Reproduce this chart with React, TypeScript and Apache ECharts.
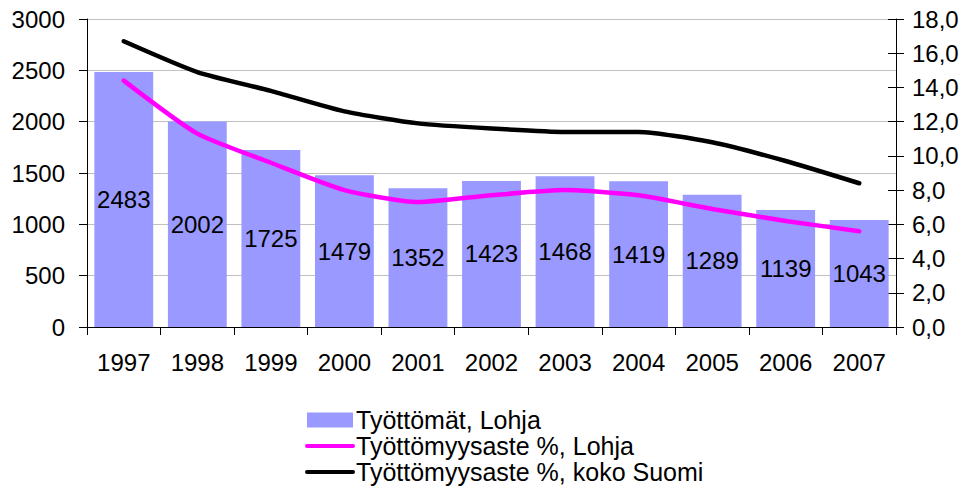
import React, { useEffect, useRef } from "react";
import * as echarts from "echarts";

const years = ["1997", "1998", "1999", "2000", "2001", "2002", "2003", "2004", "2005", "2006", "2007"];
const unemployedLohja = [2483, 2002, 1725, 1479, 1352, 1423, 1468, 1419, 1289, 1139, 1043];
const rateLohja = [14.4, 11.3, 9.6, 8.0, 7.3, 7.7, 8.0, 7.7, 6.9, 6.2, 5.6];
const rateFinland = [16.7, 14.9, 13.8, 12.6, 11.9, 11.6, 11.4, 11.4, 10.8, 9.7, 8.4];
const seriesNames = ["Työttömät, Lohja", "Työttömyysaste %, Lohja", "Työttömyysaste %, koko Suomi"];

const FONT = "'Liberation Sans', Arial, sans-serif";
const FS = 24;
const LFS = 25;

export default function App() {
  const ref = useRef<HTMLDivElement>(null);
  useEffect(() => {
    if (!ref.current) return;
    const chart = echarts.init(ref.current, null, { renderer: "svg" });
    const fmtComma = (v: number) => v.toFixed(1).replace(".", ",");
    chart.setOption({
      animation: false,
      backgroundColor: "#ffffff",
      textStyle: { fontFamily: FONT },
      grid: { left: 87, right: 73, top: 19, bottom: 159, containLabel: false },
      legend: {
        orient: "vertical",
        left: 300,
        top: 402,
        height: 84,
        itemWidth: 46,
        itemHeight: 15,
        itemGap: 0,
        textStyle: { fontFamily: FONT, fontSize: LFS, color: "#000", lineHeight: 26, padding: [0, 0, 0, -2] },
        data: [
          { name: seriesNames[0], icon: "rect" },
          { name: seriesNames[1], itemStyle: { opacity: 0 }, lineStyle: { width: 4 } },
          { name: seriesNames[2], itemStyle: { opacity: 0 }, lineStyle: { width: 4 } },
        ],
      },
      xAxis: {
        type: "category",
        data: years,
        boundaryGap: true,
        axisLine: { lineStyle: { color: "#000", width: 1 } },
        axisTick: { show: true, alignWithLabel: false, length: 8, lineStyle: { color: "#000" } },
        axisLabel: { fontFamily: FONT, fontSize: FS, color: "#000", margin: 23 },
      },
      yAxis: [
        {
          type: "value",
          min: 0,
          max: 3000,
          interval: 500,
          position: "left",
          axisLine: { show: true, lineStyle: { color: "#000" } },
          axisTick: { show: true, length: 8, lineStyle: { color: "#000" } },
          axisLabel: { fontFamily: FONT, fontSize: FS, color: "#000", margin: 22, formatter: (v: number) => String(v) },
          splitLine: { show: true, lineStyle: { color: "#c0c0c0", width: 1 } },
        },
        {
          type: "value",
          min: 0,
          max: 18,
          interval: 2,
          position: "right",
          axisLine: { show: true, lineStyle: { color: "#000" } },
          axisTick: { show: true, length: 8, lineStyle: { color: "#000" } },
          axisLabel: { fontFamily: FONT, fontSize: FS, color: "#000", margin: 16, formatter: fmtComma },
          splitLine: { show: false },
        },
        {
          type: "value",
          min: 0,
          max: 18,
          interval: 2,
          position: "right",
          axisLine: { show: false },
          axisTick: { show: true, inside: true, length: 8, lineStyle: { color: "#000" } },
          axisLabel: { show: false },
          splitLine: { show: false },
        },
      ],
      series: [
        {
          name: seriesNames[0],
          type: "bar",
          data: unemployedLohja,
          yAxisIndex: 0,
          barCategoryGap: "20%",
          itemStyle: { color: "#9999ff" },
          label: {
            show: true,
            position: "inside",
            fontFamily: FONT,
            fontSize: FS,
            color: "#000",
          },
        },
        {
          name: seriesNames[1],
          type: "line",
          data: rateLohja,
          yAxisIndex: 1,
          symbol: "none",
          smooth: 0.2,
          lineStyle: { color: "#ff00ff", width: 4.5, cap: "round", join: "round" },
          itemStyle: { color: "#ff00ff" },
        },
        {
          name: seriesNames[2],
          type: "line",
          data: rateFinland,
          yAxisIndex: 1,
          symbol: "none",
          smooth: 0.2,
          lineStyle: { color: "#000000", width: 4.5, cap: "round", join: "round" },
          itemStyle: { color: "#000000" },
        },
      ],
    });
    return () => chart.dispose();
  }, []);
  return <div ref={ref} style={{ width: 969, height: 486, position: "absolute", left: 0, top: 0 }} />;
}
